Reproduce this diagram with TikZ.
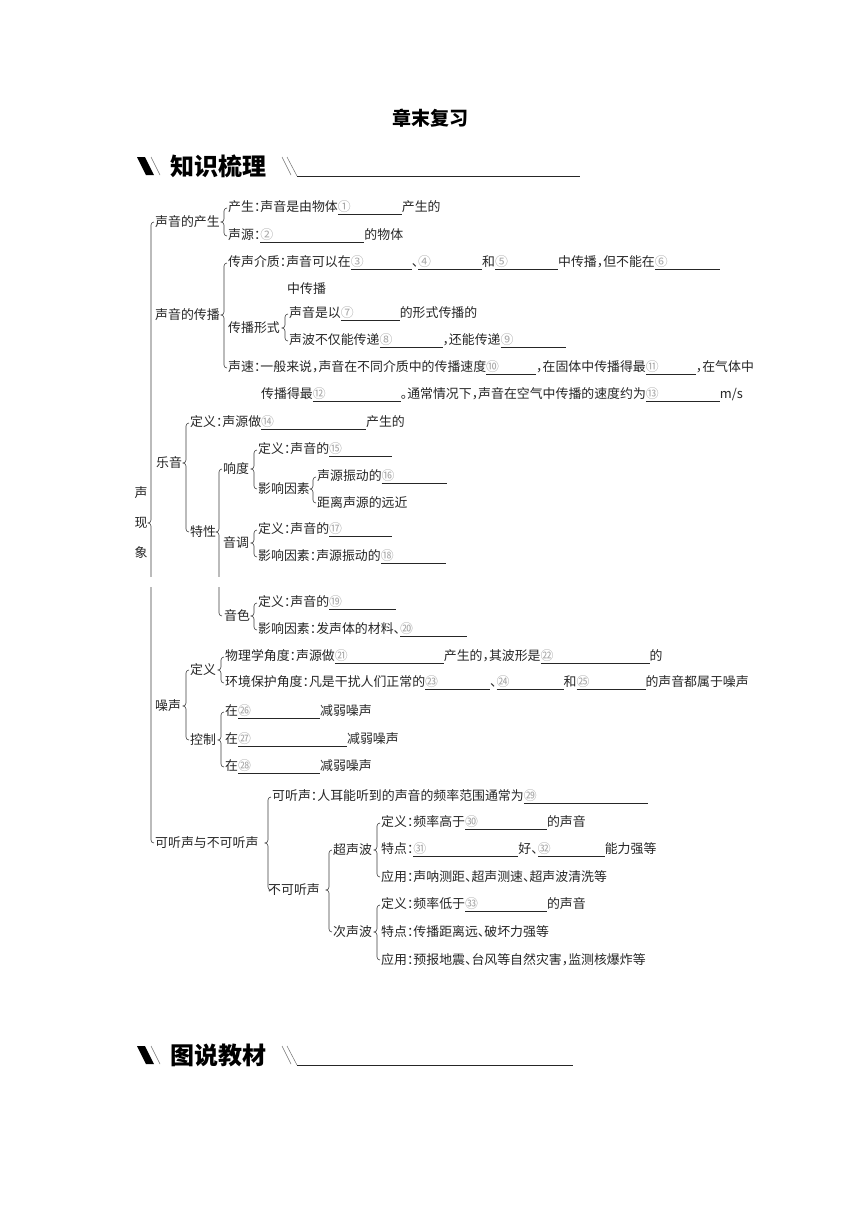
\documentclass[tikz,border=0pt]{standalone}
\usepackage{fontspec}
\setmainfont{Noto Sans CJK SC}[RawFeature=+halt]
\usetikzlibrary{calc}

% Luecke mit Nummer
\newcommand{\luecke}[2]{\underline{\makebox[#2pt][l]{\textcolor{black!35}{#1}}}}
% Klammer: Eltern, erstes Kind, letztes Kind
\newcommand{\klammer}[3]{%
	\draw[klammer] let \p1=(#1.east), \p2=(#2.west), \p3=(#3.west),
		\p4=($(#2.west)+(-4pt,0)$) in
		(\x4+3pt,\y2) to[out=180,in=90] (\x4,\y2-3pt) -- (\x4,\y1+3pt)
		to[out=-90,in=0] (\x4-3pt,\y1) to[out=0,in=90] (\x4,\y1-3pt)
		-- (\x4,\y3+3pt) to[out=-90,in=180] (\x4+3pt,\y3);}

\begin{document}
\begin{tikzpicture}[x=1pt, y=-1pt,
	txt/.style={anchor=west, inner sep=0pt, text=black!85,
		font=\fontsize{12.9}{14}\selectfont},
	klammer/.style={draw=black!75, line width=0.6pt},
	kopf/.style={anchor=west, inner sep=0pt, font=\fontsize{24}{26}\selectfont\bfseries},
	strich/.style={draw=black!55, line width=0.5pt},
	linie/.style={draw=black!85, line width=0.8pt}]
	\useasboundingbox[fill=white] (0,0) rectangle (860,1216);

	% Titel
	\node[inner sep=0pt, font=\fontsize{19}{21}\selectfont\bfseries] (titel) at (430,118) {章末复习};

	% Kopfzeilen
	\foreach \y/\t/\e in {166/知识梳理/580, 1055/图说教材/573} {
		\fill[black] (137,\y-9) -- (145,\y-9) -- (154,\y+9) -- (146,\y+9) -- cycle;
		\draw[strich] (151,\y-9) -- (160,\y+9);
		\node[kopf] at (170,\y) {\t};
		\draw[strich] (282,\y-9) -- (291,\y+9);
		\draw[strich] (287,\y-9) -- (297,\y+10);
		\draw[linie] (297,\y+10) -- (\e,\y+10);
	}

	% Wurzel
	\node[inner sep=0pt, align=center, text=black!85,
		font=\fontsize{12.9}{30}\selectfont] (root) at (141,523) {声\\现\\象};

	% erste Ebene
	\node[txt] (entst) at (155,222) {声音的产生};
	\node[txt] (ausbr) at (155,315) {声音的传播};
	\node[txt] (musik) at (156,463) {乐音};
	\node[txt] (laerm) at (155,706) {噪声};
	\node[txt] (hoer) at (155,843) {可听声与不可听声};

	% Entstehung
	\node[txt] (entst1) at (228,208) {产生：声音是由物体\luecke{①}{64}产生的};
	\node[txt] (entst2) at (228,236) {声源：\luecke{②}{104}的物体};

	% Ausbreitung
	\node[txt] (medium) at (228,263) {传声介质：声音可以在\luecke{③}{61}、\luecke{④}{64}和\luecke{⑤}{63}中传播，但不能在\luecke{⑥}{65}};
	\node[txt] (medium2) at (287,289) {中传播};
	\node[txt] (form) at (228,328) {传播形式};
	\node[txt] (form1) at (289,314) {声音是以\luecke{⑦}{59}的形式传播的};
	\node[txt] (form2) at (289,341) {声波不仅能传递\luecke{⑧}{63}，还能传递\luecke{⑨}{65}};
	\node[txt] (schall) at (228,368) {声速：一般来说，声音在不同介质中的传播速度\luecke{⑩}{50}，在固体中传播得最\luecke{⑪}{50}，在气体中};
	\node[txt] (schall2) at (261,395) {传播得最\luecke{⑫}{88}。通常情况下，声音在空气中传播的速度约为\luecke{⑬}{74}m/s};

	% Musikton
	\node[txt] (mdef) at (190,423) {定义：声源做\luecke{⑭}{105}产生的};
	\node[txt] (merk) at (190,532) {特性};
	\node[txt] (laut) at (223,469) {响度};
	\node[txt] (laut1) at (258,450) {定义：声音的\luecke{⑮}{63}};
	\node[txt] (laut2) at (258,489) {影响因素};
	\node[txt] (laut21) at (317,477) {声源振动的\luecke{⑯}{65}};
	\node[txt] (laut22) at (317,503) {距离声源的远近};
	\node[txt] (ton) at (223,543) {音调};
	\node[txt] (ton1) at (258,530) {定义：声音的\luecke{⑰}{63}};
	\node[txt] (ton2) at (258,557) {影响因素：声源振动的\luecke{⑱}{65}};
	\node[txt] (farbe) at (224,616) {音色};
	\node[txt] (farbe1) at (258,603) {定义：声音的\luecke{⑲}{67}};
	\node[txt] (farbe2) at (258,630) {影响因素：发声体的材料、\luecke{⑳}{67}};

	% Laerm
	\node[txt] (ldef) at (190,670) {定义};
	\node[txt] (ldef1) at (225,657) {物理学角度：声源做\luecke{㉑}{109}产生的，其波形是\luecke{㉒}{109}的};
	\node[txt] (ldef2) at (225,683) {环境保护角度：凡是干扰人们正常的\luecke{㉓}{65}、\luecke{㉔}{67}和\luecke{㉕}{69}的声音都属于噪声};
	\node[txt] (kontr) at (190,740) {控制};
	\node[txt] (kontr1) at (225,712) {在\luecke{㉖}{82}减弱噪声};
	\node[txt] (kontr2) at (225,740) {在\luecke{㉗}{109}减弱噪声};
	\node[txt] (kontr3) at (225,767) {在\luecke{㉘}{82}减弱噪声};

	% Hoerschall
	\node[txt] (hoer1) at (272,797) {可听声：人耳能听到的声音的频率范围通常为\luecke{㉙}{124}};
	\node[txt] (nhoer) at (268,890) {不可听声};
	\node[txt] (ultra) at (333,850) {超声波};
	\node[txt] (ultra1) at (381,823) {定义：频率高于\luecke{㉚}{82}的声音};
	\node[txt] (ultra2) at (381,850) {特点：\luecke{㉛}{105}好、\luecke{㉜}{67}能力强等};
	\node[txt] (ultra3) at (381,877) {应用：声呐测距、超声测速、超声波清洗等};
	\node[txt] (infra) at (333,932) {次声波};
	\node[txt] (infra1) at (381,905) {定义：频率低于\luecke{㉝}{82}的声音};
	\node[txt] (infra2) at (381,932) {特点：传播距离远、破坏力强等};
	\node[txt] (infra3) at (381,960) {应用：预报地震、台风等自然灾害，监测核爆炸等};

	% Klammern
	\klammer{root}{entst}{hoer}
	\klammer{entst}{entst1}{entst2}
	\klammer{ausbr}{medium}{schall}
	\klammer{form}{form1}{form2}
	\klammer{musik}{mdef}{merk}
	\klammer{merk}{laut}{farbe}
	\klammer{laut}{laut1}{laut2}
	\klammer{laut2}{laut21}{laut22}
	\klammer{ton}{ton1}{ton2}
	\klammer{farbe}{farbe1}{farbe2}
	\klammer{laerm}{ldef}{kontr}
	\klammer{ldef}{ldef1}{ldef2}
	\klammer{kontr}{kontr1}{kontr3}
	\klammer{hoer}{hoer1}{nhoer}
	\klammer{nhoer}{ultra}{infra}
	\klammer{ultra}{ultra1}{ultra3}
	\klammer{infra}{infra1}{infra3}

	% Seitenumbruch
	\fill[white] (140,577) rectangle (235,587);
\end{tikzpicture}
\end{document}
